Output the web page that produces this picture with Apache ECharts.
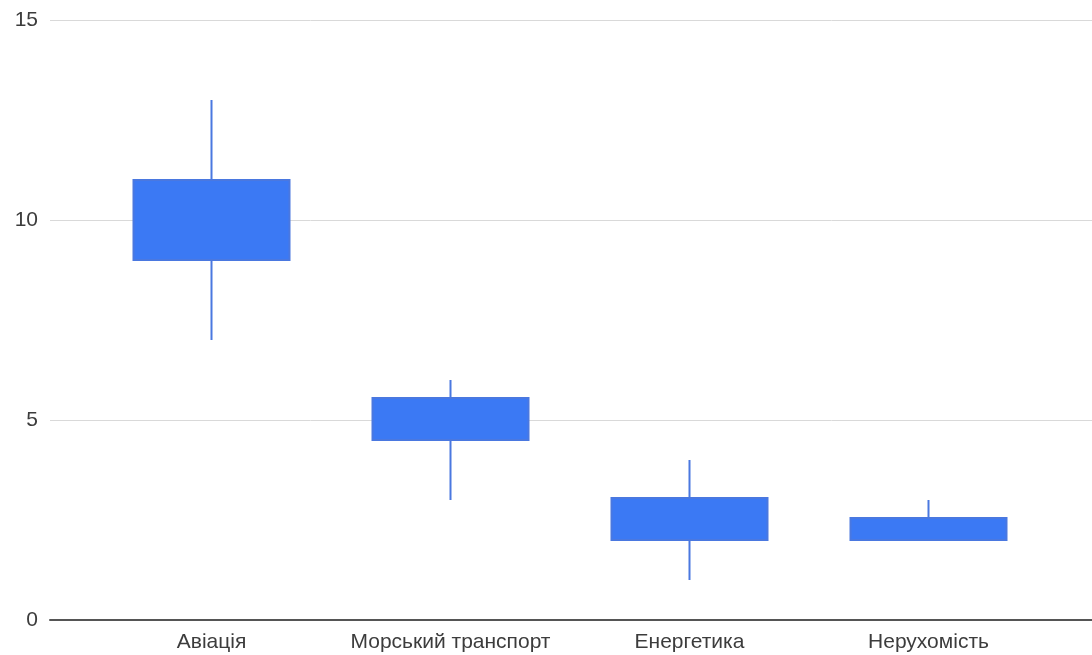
<!DOCTYPE html>
<html><head><meta charset="utf-8">
<script src="https://cdn.jsdelivr.net/npm/echarts@6/dist/echarts.min.js"></script>
<style>html,body{margin:0;padding:0;background:#fff}#c{width:1092px;height:655px}</style>
</head><body><div id="c"></div>
<script>
const categories = ['Авіація', 'Морський транспорт', 'Енергетика', 'Нерухомість'];
// [open, close, low, high]
const openVals = [9, 4.5, 2, 2];
const closeVals = [11, 5.55, 3.05, 2.55];
const lowVals = [7, 3, 1, 2];
const highVals = [13, 6, 4, 3];
const yTicks = [0, 5, 10, 15];

const data = categories.map((c, i) => [openVals[i], closeVals[i], lowVals[i], highVals[i]]);
const chart = echarts.init(document.getElementById('c'));
const font = 'Arial, "Liberation Sans", sans-serif';
chart.setOption({
  animation: false,
  grid: [
    {left: 50, right: 0, top: 20, bottom: 35},
    {left: 92, right: 44, top: 20, bottom: 35}
  ],
  xAxis: [
    {gridIndex: 0, type: 'category', data: categories, axisLine: {lineStyle: {color: '#555', width: 2}},
     axisTick: {show: false}, axisLabel: {show: false}},
    {gridIndex: 1, type: 'category', data: categories, axisLine: {show: false}, axisTick: {show: false},
     axisLabel: {color: '#3c3c3c', fontSize: 21, fontFamily: font, margin: 12, interval: 0, hideOverlap: false}}
  ],
  yAxis: [
    {gridIndex: 0, type: 'value', min: yTicks[0], max: yTicks[yTicks.length - 1], interval: 5,
     axisLine: {show: false}, axisTick: {show: false},
     axisLabel: {color: '#3c3c3c', fontSize: 21, fontFamily: font, margin: 12},
     splitLine: {lineStyle: {color: '#d9d9d9', width: 1}}},
    {gridIndex: 1, type: 'value', min: yTicks[0], max: yTicks[yTicks.length - 1], interval: 5, show: false,
     splitLine: {show: false}}
  ],
  series: [{
    type: 'candlestick', xAxisIndex: 1, yAxisIndex: 1, data: data, barWidth: 156,
    itemStyle: {color: '#3b79f4', color0: '#3b79f4', borderColor: '#4a78e0', borderColor0: '#4a78e0', borderWidth: 2}
  }]
});
</script></body></html>
